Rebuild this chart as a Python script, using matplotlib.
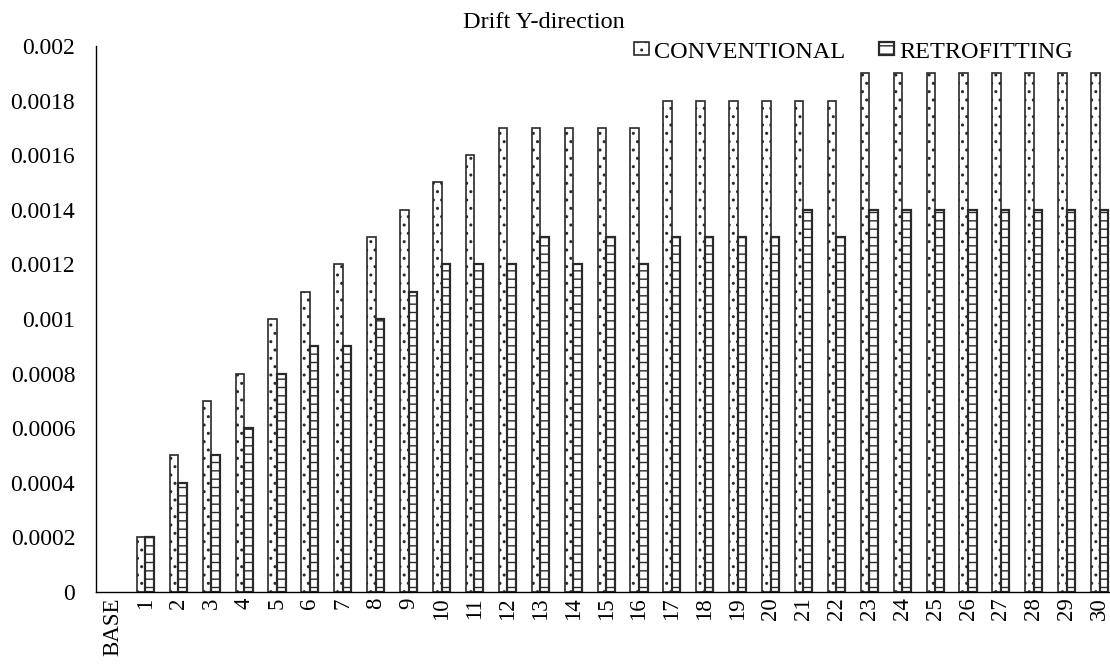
import matplotlib
matplotlib.use("Agg")
import matplotlib.pyplot as plt
import numpy as np
from matplotlib.ticker import FuncFormatter
from matplotlib.patches import Patch

plt.rcParams['font.family'] = ['Liberation Serif', 'DejaVu Serif']
plt.rcParams['hatch.linewidth'] = 1.0

categories = ["BASE"] + [str(i) for i in range(1, 31)]
conventional = [0, 0.0002, 0.0005, 0.0007, 0.0008, 0.0010, 0.0011, 0.0012, 0.0013, 0.0014,
                0.0015, 0.0016, 0.0017, 0.0017, 0.0017, 0.0017, 0.0017, 0.0018, 0.0018, 0.0018,
                0.0018, 0.0018, 0.0018, 0.0019, 0.0019, 0.0019, 0.0019, 0.0019, 0.0019, 0.0019,
                0.0019]
retrofitting = [0, 0.0002, 0.0004, 0.0005, 0.0006, 0.0008, 0.0009, 0.0009, 0.0010, 0.0011,
                0.0012, 0.0012, 0.0012, 0.0013, 0.0012, 0.0013, 0.0012, 0.0013, 0.0013, 0.0013,
                0.0013, 0.0014, 0.0013, 0.0014, 0.0014, 0.0014, 0.0014, 0.0014, 0.0014, 0.0014,
                0.0014]
y_ticks = [0, 0.0002, 0.0004, 0.0006, 0.0008, 0.0010, 0.0012, 0.0014, 0.0016, 0.0018, 0.0020]

EDGE = '#2a2a2a'
fig = plt.figure(figsize=(11.1, 6.68), dpi=100)
ax = fig.add_axes([0.0865, 0.1138, 0.919, 0.8174])

x = np.arange(len(categories))
w = 0.26
b1 = ax.bar(x - w / 2, conventional, w, facecolor='white', edgecolor=EDGE,
            linewidth=1.2, hatch='..')
b2 = ax.bar(x + w / 2, retrofitting, w, facecolor='white', edgecolor=EDGE,
            linewidth=1.6, hatch='--')
# zero-height bars leave no visible mark
for bars in (b1, b2):
    for p in bars:
        if p.get_height() == 0:
            p.set_visible(False)

ax.set_xlim(-0.5, len(categories) - 0.5)
ax.set_ylim(0, 0.002)
ax.set_yticks(y_ticks)
ax.yaxis.set_major_formatter(FuncFormatter(lambda v, p: '{:g}'.format(round(v, 6))))
ax.set_xticks(x)
ax.set_xticklabels(categories, rotation=90, fontsize=16.5)
ax.tick_params(axis='y', labelsize=17, length=0, pad=15)
ax.tick_params(axis='x', length=0, pad=4)

for s in ['top', 'right']:
    ax.spines[s].set_visible(False)
ax.spines['left'].set_linewidth(1.0)
ax.spines['bottom'].set_linewidth(1.0)

fig.text(0.490, 1 - 28 / 668, 'Drift Y-direction', ha='center', va='baseline', fontsize=17.5)

handles = [Patch(facecolor='white', edgecolor=EDGE, linewidth=1.2, hatch='..', label='CONVENTIONAL'),
           Patch(facecolor='white', edgecolor=EDGE, linewidth=1.6, hatch='--', label='RETROFITTING')]
fig.legend(handles=handles, loc='center right', bbox_to_anchor=(1073 / 1110, 1 - 52 / 668),
           ncol=2, frameon=False, fontsize=17.5, handlelength=0.62, handleheight=0.45,
           handletextpad=0.2, columnspacing=1.4, borderpad=0, borderaxespad=0)

fig.savefig('out.png', dpi=100)
